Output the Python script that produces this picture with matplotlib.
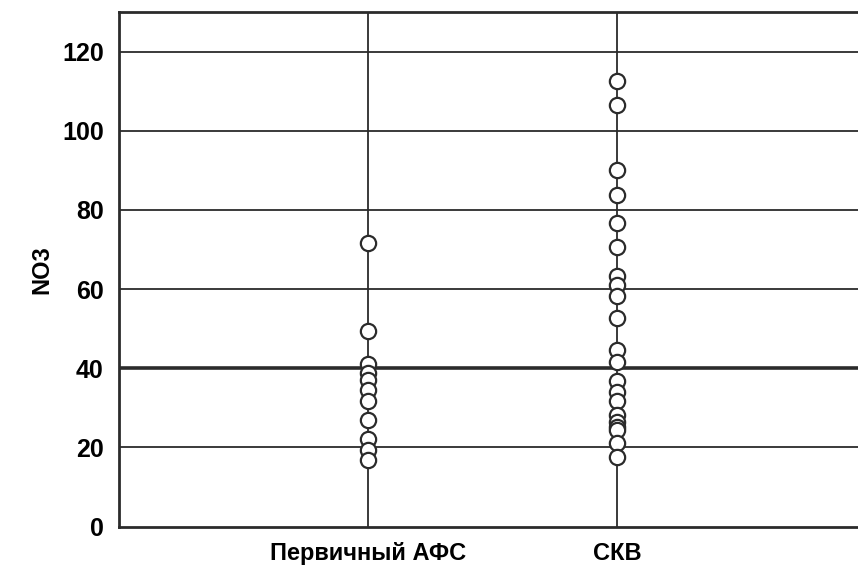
import numpy as np
from matplotlib import pyplot as plt

plt.rcParams['font.family'] = ['Liberation Sans', 'DejaVu Sans']

groups = ['Первичный АФС', 'СКВ']
afs = [71.7, 49.3, 41.1, 38.7, 36.9, 34.4, 31.7, 26.8, 22.0, 19.4, 16.9]
skv = [112.5, 106.6, 90.2, 83.7, 76.8, 70.5, 63.4, 60.9, 58.3, 52.8,
       44.5, 41.5, 36.7, 34.0, 31.7, 28.1, 26.4, 25.2, 24.3, 21.0, 17.6]
yticks = [0, 20, 40, 60, 80, 100, 120]

ink = '#2b2b2b'

fig = plt.figure(figsize=(8.58, 5.67), dpi=100)
ax = fig.add_axes([119/858, 1 - 526.5/567, 1 - 119/858, (526.5 - 12)/567])

# grid
for yv in yticks[1:]:
    ax.axhline(yv, color=ink, lw=1.3 if yv != 40 else 2.6, zorder=1)
for i in range(len(groups)):
    ax.axvline(i + 1, color=ink, lw=1.3, zorder=1)

for i, vals in enumerate([afs, skv]):
    ax.plot([i + 1] * len(vals), vals, 'o', ms=11, mfc='white', mec=ink,
            mew=1.6, zorder=3, linestyle='none')

ax.set_xlim(0, 2.965)
ax.set_ylim(0, 130)
ax.set_yticks(yticks)
ax.set_xticks([1, 2])
ax.set_xticklabels(groups)
ax.tick_params(length=0)
ax.tick_params(axis='y', pad=11, labelsize=18)
ax.tick_params(axis='x', pad=11.5, labelsize=17)
for lab in ax.get_xticklabels() + ax.get_yticklabels():
    lab.set_fontweight('bold')
ax.set_ylabel('NO3', fontsize=17, fontweight='bold', labelpad=6)

for s in ['left', 'bottom', 'top']:
    ax.spines[s].set_linewidth(2)
    ax.spines[s].set_color(ink)
ax.spines['right'].set_visible(False)

plt.savefig('out.png', dpi=100)
